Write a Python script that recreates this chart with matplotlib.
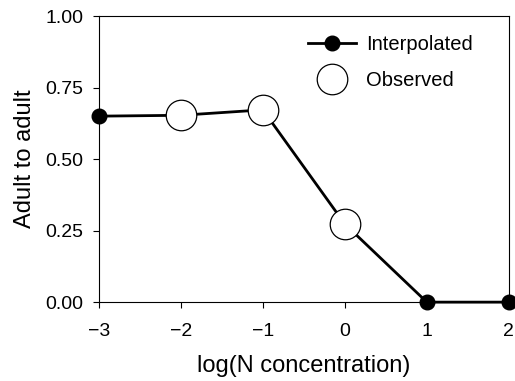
import matplotlib
matplotlib.use("Agg")
import matplotlib.pyplot as plt
from matplotlib.lines import Line2D

plt.rcParams['font.family'] = ['Liberation Sans', 'DejaVu Sans']

x_all = [-3, -2, -1, 0, 1, 2]
y_all = [0.65, 0.653, 0.672, 0.273, 0.0, 0.0]
interp_x = [-3, 1, 2]
interp_y = [0.65, 0.0, 0.0]
obs_x = [-2, -1, 0]
obs_y = [0.653, 0.672, 0.273]
xticks = [-3, -2, -1, 0, 1, 2]
xticklabels = ['\u22123', '\u22122', '\u22121', '0', '1', '2']
yticks = [0.0, 0.25, 0.5, 0.75, 1.0]
yticklabels = ['0.00', '0.25', '0.50', '0.75', '1.00']

fig = plt.figure(figsize=(5.15, 3.81), dpi=100)
ax = fig.add_axes([0.192, 0.207, 0.796, 0.751])

ax.plot(x_all, y_all, color='black', lw=2, zorder=2, clip_on=False)
ax.plot(interp_x, interp_y, 'o', color='black', ms=10.5, zorder=3, clip_on=False)
ax.plot(obs_x, obs_y, 'o', mfc='white', mec='black', mew=0.9, ms=22, zorder=4, clip_on=False)

ax.set_xlim(-3, 2)
ax.set_ylim(0, 1)
ax.set_xticks(xticks)
ax.set_xticklabels(xticklabels)
ax.set_yticks(yticks)
ax.set_yticklabels(yticklabels)
ax.tick_params(direction='out', length=4, width=0.8, labelsize=14)
ax.tick_params(axis='x', pad=11)
ax.tick_params(axis='y', pad=7)
for s in ax.spines.values():
    s.set_linewidth(0.8)
ax.set_xlabel('log(N concentration)', fontsize=17, labelpad=11)
ax.set_ylabel('Adult to adult', fontsize=17, labelpad=7)

handles = [
    Line2D([0], [0], color='black', lw=2, marker='o', ms=10.5, mfc='black', mec='black'),
    Line2D([0], [0], color='none', marker='o', ms=22, mfc='white', mec='black', mew=0.9),
]
ax.legend(handles, ['Interpolated', 'Observed'], loc='upper left',
          bbox_to_anchor=(0.465, 0.998), frameon=False, fontsize=14.5,
          handlelength=2.4, labelspacing=0.85, handletextpad=0.5)

fig.savefig('out.png', dpi=100)
